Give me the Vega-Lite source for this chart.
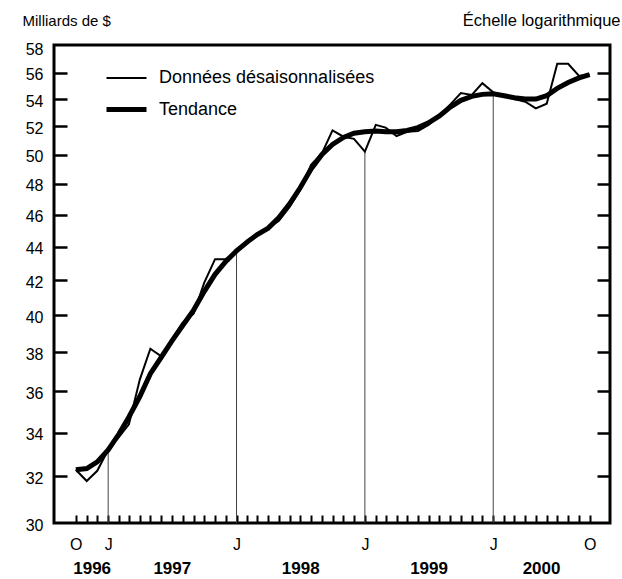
{
  "$schema": "https://vega.github.io/schema/vega-lite/v6.json",
  "width": 556,
  "height": 478,
  "autosize": "none",
  "padding": {"left": 54, "top": 45, "right": 12, "bottom": 56},
  "background": "white",
  "config": {
    "font": "Liberation Sans",
    "view": {"stroke": "black", "strokeWidth": 3},
    "axis": {"grid": false, "domain": false, "zindex": 1, "labelColor": "black", "tickColor": "black", "titleColor": "black", "labelFontSize": 16, "titleFontSize": 15, "titleFontWeight": "normal", "labelFont": "Liberation Sans", "titleFont": "Liberation Sans"}
  },
  "data": {
    "values": [
      {"date": "1996-10-01", "serie": "brut", "valeur": 32.3},
      {"date": "1996-11-01", "serie": "brut", "valeur": 31.8},
      {"date": "1996-12-01", "serie": "brut", "valeur": 32.25},
      {"date": "1997-01-01", "serie": "brut", "valeur": 33.2},
      {"date": "1997-02-01", "serie": "brut", "valeur": 33.8},
      {"date": "1997-03-01", "serie": "brut", "valeur": 34.4},
      {"date": "1997-04-01", "serie": "brut", "valeur": 36.6},
      {"date": "1997-05-01", "serie": "brut", "valeur": 38.2},
      {"date": "1997-06-01", "serie": "brut", "valeur": 37.8},
      {"date": "1997-07-01", "serie": "brut", "valeur": 38.7},
      {"date": "1997-08-01", "serie": "brut", "valeur": 39.6},
      {"date": "1997-09-01", "serie": "brut", "valeur": 40.1},
      {"date": "1997-10-01", "serie": "brut", "valeur": 41.85},
      {"date": "1997-11-01", "serie": "brut", "valeur": 43.25},
      {"date": "1997-12-01", "serie": "brut", "valeur": 43.25},
      {"date": "1998-01-01", "serie": "brut", "valeur": 43.7},
      {"date": "1998-02-01", "serie": "brut", "valeur": 44.4},
      {"date": "1998-03-01", "serie": "brut", "valeur": 44.8},
      {"date": "1998-04-01", "serie": "brut", "valeur": 45.2},
      {"date": "1998-05-01", "serie": "brut", "valeur": 45.6},
      {"date": "1998-06-01", "serie": "brut", "valeur": 46.5},
      {"date": "1998-07-01", "serie": "brut", "valeur": 47.6},
      {"date": "1998-08-01", "serie": "brut", "valeur": 49.3},
      {"date": "1998-09-01", "serie": "brut", "valeur": 50.1},
      {"date": "1998-10-01", "serie": "brut", "valeur": 51.7},
      {"date": "1998-11-01", "serie": "brut", "valeur": 51.25},
      {"date": "1998-12-01", "serie": "brut", "valeur": 51.1},
      {"date": "1999-01-01", "serie": "brut", "valeur": 50.2},
      {"date": "1999-02-01", "serie": "brut", "valeur": 52.1},
      {"date": "1999-03-01", "serie": "brut", "valeur": 51.9},
      {"date": "1999-04-01", "serie": "brut", "valeur": 51.3},
      {"date": "1999-05-01", "serie": "brut", "valeur": 51.6},
      {"date": "1999-06-01", "serie": "brut", "valeur": 51.65},
      {"date": "1999-07-01", "serie": "brut", "valeur": 52.1},
      {"date": "1999-08-01", "serie": "brut", "valeur": 52.8},
      {"date": "1999-09-01", "serie": "brut", "valeur": 53.6},
      {"date": "1999-10-01", "serie": "brut", "valeur": 54.45},
      {"date": "1999-11-01", "serie": "brut", "valeur": 54.3},
      {"date": "1999-12-01", "serie": "brut", "valeur": 55.2},
      {"date": "2000-01-01", "serie": "brut", "valeur": 54.5},
      {"date": "2000-02-01", "serie": "brut", "valeur": 54.2},
      {"date": "2000-03-01", "serie": "brut", "valeur": 54.0},
      {"date": "2000-04-01", "serie": "brut", "valeur": 53.8},
      {"date": "2000-05-01", "serie": "brut", "valeur": 53.3},
      {"date": "2000-06-01", "serie": "brut", "valeur": 53.65},
      {"date": "2000-07-01", "serie": "brut", "valeur": 56.7},
      {"date": "2000-08-01", "serie": "brut", "valeur": 56.7},
      {"date": "2000-09-01", "serie": "brut", "valeur": 55.75},
      {"date": "2000-10-01", "serie": "brut", "valeur": 55.85},
      {"date": "1996-10-01", "serie": "tendance", "valeur": 32.3},
      {"date": "1996-11-01", "serie": "tendance", "valeur": 32.35},
      {"date": "1996-12-01", "serie": "tendance", "valeur": 32.65},
      {"date": "1997-01-01", "serie": "tendance", "valeur": 33.2},
      {"date": "1997-02-01", "serie": "tendance", "valeur": 33.95},
      {"date": "1997-03-01", "serie": "tendance", "valeur": 34.75},
      {"date": "1997-04-01", "serie": "tendance", "valeur": 35.75},
      {"date": "1997-05-01", "serie": "tendance", "valeur": 36.9},
      {"date": "1997-06-01", "serie": "tendance", "valeur": 37.75},
      {"date": "1997-07-01", "serie": "tendance", "valeur": 38.6},
      {"date": "1997-08-01", "serie": "tendance", "valeur": 39.45},
      {"date": "1997-09-01", "serie": "tendance", "valeur": 40.3},
      {"date": "1997-10-01", "serie": "tendance", "valeur": 41.35},
      {"date": "1997-11-01", "serie": "tendance", "valeur": 42.35},
      {"date": "1997-12-01", "serie": "tendance", "valeur": 43.1},
      {"date": "1998-01-01", "serie": "tendance", "valeur": 43.75},
      {"date": "1998-02-01", "serie": "tendance", "valeur": 44.3},
      {"date": "1998-03-01", "serie": "tendance", "valeur": 44.75},
      {"date": "1998-04-01", "serie": "tendance", "valeur": 45.15},
      {"date": "1998-05-01", "serie": "tendance", "valeur": 45.8},
      {"date": "1998-06-01", "serie": "tendance", "valeur": 46.7},
      {"date": "1998-07-01", "serie": "tendance", "valeur": 47.75},
      {"date": "1998-08-01", "serie": "tendance", "valeur": 49.0},
      {"date": "1998-09-01", "serie": "tendance", "valeur": 50.0},
      {"date": "1998-10-01", "serie": "tendance", "valeur": 50.7},
      {"date": "1998-11-01", "serie": "tendance", "valeur": 51.2},
      {"date": "1998-12-01", "serie": "tendance", "valeur": 51.5},
      {"date": "1999-01-01", "serie": "tendance", "valeur": 51.6},
      {"date": "1999-02-01", "serie": "tendance", "valeur": 51.65},
      {"date": "1999-03-01", "serie": "tendance", "valeur": 51.6},
      {"date": "1999-04-01", "serie": "tendance", "valeur": 51.6},
      {"date": "1999-05-01", "serie": "tendance", "valeur": 51.7},
      {"date": "1999-06-01", "serie": "tendance", "valeur": 51.9},
      {"date": "1999-07-01", "serie": "tendance", "valeur": 52.25},
      {"date": "1999-08-01", "serie": "tendance", "valeur": 52.75},
      {"date": "1999-09-01", "serie": "tendance", "valeur": 53.4},
      {"date": "1999-10-01", "serie": "tendance", "valeur": 53.9},
      {"date": "1999-11-01", "serie": "tendance", "valeur": 54.2},
      {"date": "1999-12-01", "serie": "tendance", "valeur": 54.35},
      {"date": "2000-01-01", "serie": "tendance", "valeur": 54.4},
      {"date": "2000-02-01", "serie": "tendance", "valeur": 54.25},
      {"date": "2000-03-01", "serie": "tendance", "valeur": 54.1},
      {"date": "2000-04-01", "serie": "tendance", "valeur": 54.0},
      {"date": "2000-05-01", "serie": "tendance", "valeur": 54.0},
      {"date": "2000-06-01", "serie": "tendance", "valeur": 54.25},
      {"date": "2000-07-01", "serie": "tendance", "valeur": 54.8},
      {"date": "2000-08-01", "serie": "tendance", "valeur": 55.25},
      {"date": "2000-09-01", "serie": "tendance", "valeur": 55.6},
      {"date": "2000-10-01", "serie": "tendance", "valeur": 55.85}
    ]
  },
  "layer": [
    {
      "transform": [{"filter": "datum.serie == 'brut' && utcmonth(toDate(datum.date)) == 0"}],
      "mark": {"type": "rule", "color": "#444444", "strokeWidth": 1},
      "encoding": {
        "x": {
          "field": "date", "type": "temporal",
          "scale": {"type": "utc", "nice": false, "domain": [{"year": 1996, "month": 7, "date": 31, "utc": true}, {"year": 2000, "month": 11, "date": 28, "utc": true}]},
          "axis": {
            "orient": "bottom", "title": null, "ticks": false, "domain": false, "labelFlush": false,
            "values": [
              {"year": 1996, "month": 11, "date": 15, "utc": true},
              {"year": 1997, "month": 7, "date": 1, "utc": true},
              {"year": 1998, "month": 7, "date": 1, "utc": true},
              {"year": 1999, "month": 7, "date": 1, "utc": true},
              {"year": 2000, "month": 5, "date": 16, "utc": true}
            ],
            "labelExpr": "'' + utcyear(datum.value)",
            "labelFontWeight": "bold", "labelFontSize": 17, "labelPadding": 37
          }
        },
        "y": {
          "field": "valeur", "type": "quantitative",
          "scale": {"type": "log", "domain": [30, 58.2], "nice": false, "zero": false},
          "axis": {
            "orient": "right", "labels": false,
            "values": [32, 34, 36, 38, 40, 42, 44, 46, 48, 50, 52, 54, 56],
            "tickSize": -13, "tickWidth": 2.5,
            "title": "Échelle logarithmique", "titleFontSize": 16.5, "titleAngle": 0, "titleAlign": "right", "titleBaseline": "middle",
            "titleX": 10, "titleY": -25
          }
        },
        "y2": {"datum": 30}
      }
    },
    {
      "mark": {"type": "line", "color": "black"},
      "encoding": {
        "x": {
          "field": "date", "type": "temporal",
          "scale": {"type": "utc", "nice": false, "domain": [{"year": 1996, "month": 7, "date": 31, "utc": true}, {"year": 2000, "month": 11, "date": 28, "utc": true}]},
          "axis": {
            "orient": "bottom", "title": null, "domain": false, "labelFlush": false,
            "tickSize": -8, "tickWidth": 2,
            "values": [
              {"year": 1996, "month": 10, "date": 1, "utc": true}, {"year": 1996, "month": 11, "date": 1, "utc": true}, {"year": 1996, "month": 12, "date": 1, "utc": true},
              {"year": 1997, "month": 1, "date": 1, "utc": true}, {"year": 1997, "month": 2, "date": 1, "utc": true}, {"year": 1997, "month": 3, "date": 1, "utc": true},
              {"year": 1997, "month": 4, "date": 1, "utc": true}, {"year": 1997, "month": 5, "date": 1, "utc": true}, {"year": 1997, "month": 6, "date": 1, "utc": true},
              {"year": 1997, "month": 7, "date": 1, "utc": true}, {"year": 1997, "month": 8, "date": 1, "utc": true}, {"year": 1997, "month": 9, "date": 1, "utc": true},
              {"year": 1997, "month": 10, "date": 1, "utc": true}, {"year": 1997, "month": 11, "date": 1, "utc": true}, {"year": 1997, "month": 12, "date": 1, "utc": true},
              {"year": 1998, "month": 1, "date": 1, "utc": true}, {"year": 1998, "month": 2, "date": 1, "utc": true}, {"year": 1998, "month": 3, "date": 1, "utc": true},
              {"year": 1998, "month": 4, "date": 1, "utc": true}, {"year": 1998, "month": 5, "date": 1, "utc": true}, {"year": 1998, "month": 6, "date": 1, "utc": true},
              {"year": 1998, "month": 7, "date": 1, "utc": true}, {"year": 1998, "month": 8, "date": 1, "utc": true}, {"year": 1998, "month": 9, "date": 1, "utc": true},
              {"year": 1998, "month": 10, "date": 1, "utc": true}, {"year": 1998, "month": 11, "date": 1, "utc": true}, {"year": 1998, "month": 12, "date": 1, "utc": true},
              {"year": 1999, "month": 1, "date": 1, "utc": true}, {"year": 1999, "month": 2, "date": 1, "utc": true}, {"year": 1999, "month": 3, "date": 1, "utc": true},
              {"year": 1999, "month": 4, "date": 1, "utc": true}, {"year": 1999, "month": 5, "date": 1, "utc": true}, {"year": 1999, "month": 6, "date": 1, "utc": true},
              {"year": 1999, "month": 7, "date": 1, "utc": true}, {"year": 1999, "month": 8, "date": 1, "utc": true}, {"year": 1999, "month": 9, "date": 1, "utc": true},
              {"year": 1999, "month": 10, "date": 1, "utc": true}, {"year": 1999, "month": 11, "date": 1, "utc": true}, {"year": 1999, "month": 12, "date": 1, "utc": true},
              {"year": 2000, "month": 1, "date": 1, "utc": true}, {"year": 2000, "month": 2, "date": 1, "utc": true}, {"year": 2000, "month": 3, "date": 1, "utc": true},
              {"year": 2000, "month": 4, "date": 1, "utc": true}, {"year": 2000, "month": 5, "date": 1, "utc": true}, {"year": 2000, "month": 6, "date": 1, "utc": true},
              {"year": 2000, "month": 7, "date": 1, "utc": true}, {"year": 2000, "month": 8, "date": 1, "utc": true}, {"year": 2000, "month": 9, "date": 1, "utc": true},
              {"year": 2000, "month": 10, "date": 1, "utc": true}
            ],
            "labelExpr": "utcmonth(datum.value) == 0 ? 'J' : ((utcmonth(datum.value) == 9 && (utcyear(datum.value) == 1996 || utcyear(datum.value) == 2000)) ? 'O' : '')",
            "labelPadding": 21
          }
        },
        "y": {
          "field": "valeur", "type": "quantitative",
          "scale": {"type": "log", "domain": [30, 58.2], "nice": false, "zero": false},
          "axis": {
            "orient": "left",
            "values": [30, 32, 34, 36, 38, 40, 42, 44, 46, 48, 50, 52, 54, 56, 58],
            "format": "d",
            "tickSize": -13, "tickWidth": 2.5,
            "tickOpacity": {"condition": {"test": "datum.value == 30 || datum.value == 58", "value": 0}, "value": 1},
            "labelPadding": 24, "labelOffset": 2,
            "title": "Milliards de $", "titleAngle": 0, "titleAlign": "left", "titleBaseline": "middle",
            "titleX": -32, "titleY": -25
          }
        },
        "strokeWidth": {
          "field": "serie", "type": "nominal",
          "scale": {"domain": ["brut", "tendance"], "range": [2, 5]},
          "legend": {
            "orient": "none", "legendX": 50, "legendY": 12, "title": null,
            "symbolType": "stroke", "symbolSize": 1600, "symbolStrokeColor": "black",
            "labelFontSize": 18, "labelColor": "black", "labelFont": "Liberation Sans", "labelOffset": 10, "rowPadding": -8, "labelLimit": 0,
            "labelExpr": "datum.label == 'brut' ? 'Données désaisonnalisées' : 'Tendance'"
          }
        }
      }
    }
  ],
  "resolve": {"axis": {"x": "independent", "y": "independent"}}
}
